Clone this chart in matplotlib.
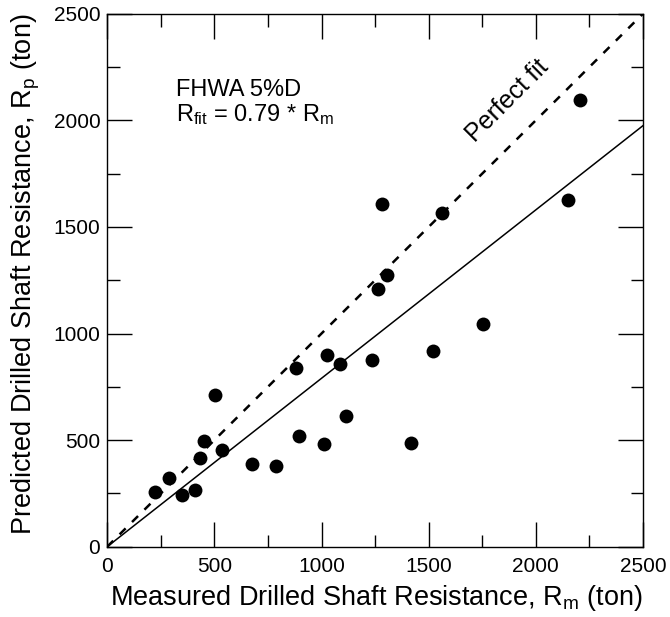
import matplotlib
matplotlib.use("Agg")
import matplotlib.pyplot as plt
import numpy as np
from matplotlib.ticker import MultipleLocator

plt.rcParams['font.family'] = ['Liberation Sans', 'DejaVu Sans']
plt.rcParams['mathtext.fontset'] = 'custom'
plt.rcParams['mathtext.rm'] = 'Liberation Sans'
plt.rcParams['mathtext.it'] = 'Liberation Sans'

# Measured vs predicted drilled shaft resistance (ton)
measured = [1282, 1306, 1262, 1025, 1084, 1235, 882, 503, 1112, 893,
            1011, 452, 537, 433, 675, 787, 290, 223, 349, 411,
            2206, 1563, 2150, 1754, 1519, 1418]
predicted = [1607, 1275, 1208, 897, 857, 875, 836, 711, 611, 517,
             481, 494, 453, 416, 388, 380, 324, 258, 244, 267,
             2094, 1566, 1625, 1043, 917, 488]
fit_slope = 0.79
axis_range = [0, 2500]

fig = plt.figure(figsize=(6.7, 6.17), dpi=100)
ax = fig.add_axes([0.160, 0.1139, 0.7997, 0.8639])

xs = np.array(axis_range, dtype=float)
ax.plot(xs, xs, linestyle=(0, (3.4, 3.6)), color='black', linewidth=1.8)
ax.plot(xs, fit_slope * xs, color='black', linewidth=1.1)
ax.scatter(measured, predicted, s=100, color='black', zorder=3, clip_on=False, linewidths=0)

ax.set_xlim(axis_range)
ax.set_ylim(axis_range)
ax.xaxis.set_major_locator(MultipleLocator(500))
ax.xaxis.set_minor_locator(MultipleLocator(250))
ax.yaxis.set_major_locator(MultipleLocator(500))
ax.yaxis.set_minor_locator(MultipleLocator(250))
ax.tick_params(which='both', direction='in', top=True, right=True, width=1, labelsize=15)
ax.tick_params(which='major', length=18)
ax.tick_params(which='minor', length=9)
ax.tick_params(axis='x', which='major', pad=7.5)
ax.tick_params(axis='y', which='major', pad=5)
for s in ax.spines.values():
    s.set_linewidth(1.0)

ax.set_xlabel(r"Measured Drilled Shaft Resistance, R$_\mathrm{m}$ (ton)", fontsize=19.5)
ax.set_ylabel(r"Predicted Drilled Shaft Resistance, R$_\mathrm{p}$ (ton)", fontsize=19.5)
ax.xaxis.set_label_coords(0.502, -0.068)
ax.yaxis.set_label_coords(-0.122, 0.512)

ax.text(0.128, 0.799, "FHWA 5%D\n" + r"R$_\mathrm{fit}$ = 0.79 * R$_\mathrm{m}$",
        transform=ax.transAxes, fontsize=17, va='baseline', linespacing=1.02)
ax.text(1866, 2094, "Perfect fit", rotation=45, ha='center', va='center', fontsize=18,
        rotation_mode='anchor')

fig.savefig("out.png", dpi=100)
